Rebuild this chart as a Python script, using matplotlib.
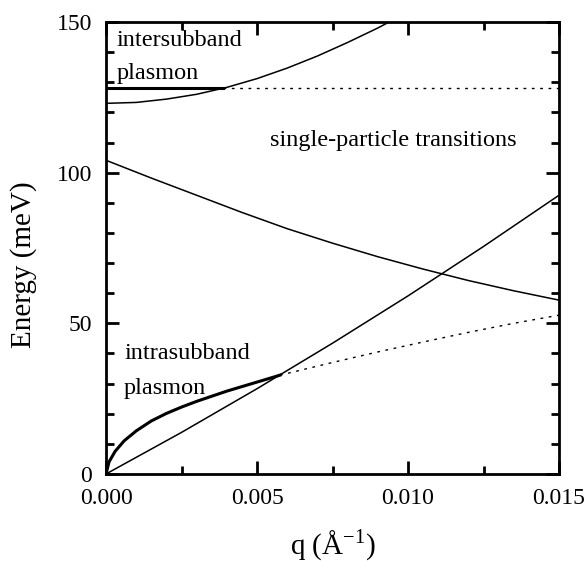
import matplotlib
matplotlib.use("Agg")
import matplotlib.pyplot as plt

plt.rcParams["font.family"] = ["Liberation Serif", "DejaVu Serif"]
plt.rcParams["mathtext.fontset"] = "custom"
plt.rcParams["mathtext.rm"] = "Liberation Serif"

# single-particle continuum upper edge
q_edge = [0, 0.0025, 0.005, 0.0075, 0.010, 0.0125, 0.015]
e_edge = [0, 13.8, 28.3, 43.4, 59.1, 75.5, 92.5]

# decreasing branch
q_dec = [0, 0.0015, 0.003, 0.0045, 0.006, 0.0075, 0.009, 0.0105, 0.012, 0.0135, 0.015]
e_dec = [104.1, 98.2, 92.5, 86.8, 81.4, 76.6, 72.1, 68.0, 64.2, 60.8, 57.7]

# upper single-particle (intersubband) edge
q_up = [0, 0.001, 0.002, 0.003, 0.004, 0.005, 0.006, 0.007, 0.008, 0.009, 0.010]
e_up = [123.0, 123.3, 124.4, 126.0, 128.3, 131.2, 134.7, 138.7, 143.2, 148.0, 153.3]

# intersubband plasmon
q_isb = [0, 0.00387]
e_isb = [128, 128]
q_isb_d = [0.00387, 0.015]
e_isb_d = [128, 128]

# intrasubband plasmon
q_pl = [0, 0.0001, 0.0003, 0.0006, 0.001, 0.0015, 0.002, 0.0025, 0.003, 0.0035,
        0.004, 0.0045, 0.005, 0.0055, 0.00576]
e_pl = [0, 4.0, 7.5, 11.0, 14.3, 17.6, 20.1, 22.2, 24.1, 25.8, 27.5, 29.0, 30.5, 32.0, 32.8]
q_pl_d = [0.00576, 0.0075, 0.009, 0.0105, 0.012, 0.0135, 0.015]
e_pl_d = [32.8, 37.0, 40.5, 43.8, 47.0, 50.0, 52.7]

fig = plt.figure(figsize=(5.87, 5.62), dpi=100)
ax = fig.add_axes([0.1806, 0.1566, 0.7717, 0.8043])

ax.plot(q_edge, e_edge, color="black", lw=1.1)
ax.plot(q_dec, e_dec, color="black", lw=1.1)
ax.plot(q_up, e_up, color="black", lw=1.1)
ax.plot(q_isb, e_isb, color="black", lw=2.2)
ax.plot(q_isb_d, e_isb_d, color="black", lw=1.0, linestyle=(0, (2, 4)))
ax.plot(q_pl, e_pl, color="black", lw=2.2)
ax.plot(q_pl_d, e_pl_d, color="black", lw=1.0, linestyle=(0, (2, 4)))

ax.set_xlim(0, 0.015)
ax.set_ylim(0, 150)
ax.set_xticks([0, 0.005, 0.010, 0.015])
ax.set_xticklabels(["0.000", "0.005", "0.010", "0.015"])
ax.set_yticks([0, 50, 100, 150])
ax.set_xticks([0.0025, 0.0075, 0.0125], minor=True)
ax.set_yticks(range(0, 151, 10), minor=True)
ax.tick_params(which="both", direction="in", top=True, right=True, width=2,
               labelsize=17, pad=10)
ax.tick_params(which="major", length=9.5)
ax.tick_params(which="minor", length=5.5)
for s in ax.spines.values():
    s.set_linewidth(2)

ax.set_xlabel("q (Å$^{\\mathrm{-1}}$)", fontsize=21, va="center")
ax.xaxis.set_label_coords(0.5, -0.157)
ax.set_ylabel("Energy (meV)", fontsize=21, va="center")
ax.yaxis.set_label_coords(-0.183, 0.462)

ax.text(0.00036, 143.8, "intersubband", fontsize=17.5, va="center")
ax.text(0.00036, 132.9, "plasmon", fontsize=17.5, va="center")
ax.text(0.00543, 110.7, "single-particle transitions", fontsize=17.5, va="center")
ax.text(0.0006, 40.1, "intrasubband", fontsize=17.5, va="center")
ax.text(0.0006, 28.5, "plasmon", fontsize=17.5, va="center")

fig.savefig("out.png", dpi=100)
